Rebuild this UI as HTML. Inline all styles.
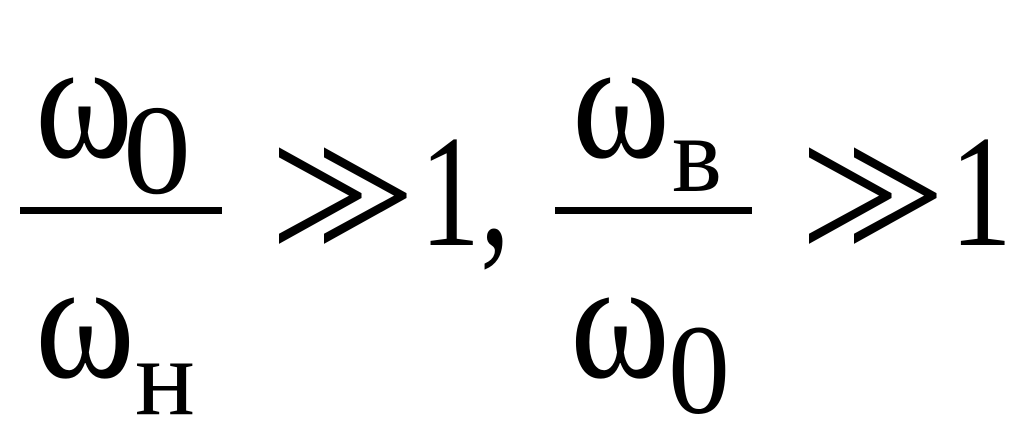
<!DOCTYPE html>
<html><head><meta charset="utf-8"><style>
html,body{margin:0;padding:0;background:#fff;width:1024px;height:444px;overflow:hidden}
svg text{font-family:"Liberation Serif","DejaVu Serif",serif;fill:#000}
</style></head><body>
<svg width="1024" height="444" viewBox="0 0 1024 444" xmlns="http://www.w3.org/2000/svg">
<rect width="1024" height="444" fill="#fff"/>
<text x="35" y="157" font-size="170" textLength="98" lengthAdjust="spacingAndGlyphs">ω</text>
<text x="123" y="193" font-size="128" textLength="68" lengthAdjust="spacingAndGlyphs">0</text>
<rect x="20" y="207" width="202" height="7" fill="#000"/>
<text x="35" y="377" font-size="170" textLength="100" lengthAdjust="spacingAndGlyphs">ω</text>
<text x="135" y="414" font-size="110" textLength="60" lengthAdjust="spacingAndGlyphs">н</text>
<text x="270" y="262" font-size="200" textLength="100" lengthAdjust="spacingAndGlyphs">&gt;</text>
<text x="315" y="262" font-size="200" textLength="100" lengthAdjust="spacingAndGlyphs">&gt;</text>
<text x="420" y="245" font-size="160" textLength="90" lengthAdjust="spacingAndGlyphs">1,</text>
<text x="572" y="157" font-size="170" textLength="98" lengthAdjust="spacingAndGlyphs">ω</text>
<text x="672" y="191" font-size="110" textLength="50" lengthAdjust="spacingAndGlyphs">в</text>
<rect x="555" y="207" width="197" height="7" fill="#000"/>
<text x="570" y="377" font-size="170" textLength="100" lengthAdjust="spacingAndGlyphs">ω</text>
<text x="668" y="413" font-size="128" textLength="62" lengthAdjust="spacingAndGlyphs">0</text>
<text x="800" y="262" font-size="200" textLength="100" lengthAdjust="spacingAndGlyphs">&gt;</text>
<text x="845" y="262" font-size="200" textLength="100" lengthAdjust="spacingAndGlyphs">&gt;</text>
<text x="950" y="245" font-size="160" textLength="62" lengthAdjust="spacingAndGlyphs">1</text>
</svg>
</body></html>
